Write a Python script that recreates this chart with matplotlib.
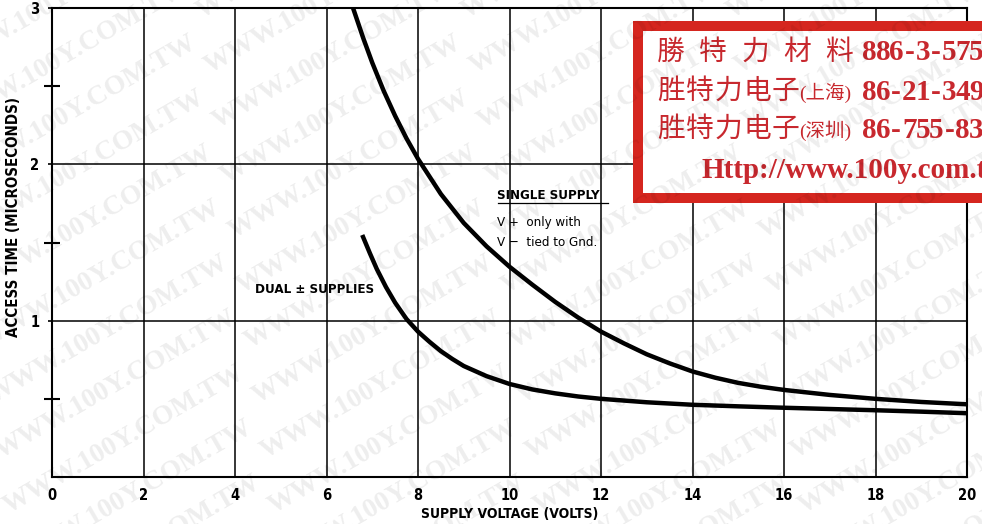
import matplotlib
matplotlib.use("Agg")
import matplotlib.pyplot as plt
import matplotlib.patches as patches

# access time vs supply voltage, read per curve
single_v = [6.58, 6.8, 7.0, 7.25, 7.5, 7.75, 8.0, 8.5, 9.0, 9.5, 10.0, 10.5, 11.0,
            11.5, 12.0, 12.5, 13.0, 13.5, 14.0, 14.5, 15.0, 15.5, 16.0, 17.0, 18.0,
            19.0, 20.0]
single_t = [3.00, 2.81, 2.65, 2.47, 2.31, 2.165, 2.035, 1.81, 1.625, 1.475, 1.345,
            1.23, 1.12, 1.02, 0.93, 0.855, 0.785, 0.727, 0.675, 0.635, 0.602, 0.577,
            0.557, 0.525, 0.50, 0.48, 0.465]

dual_v = [6.8, 6.95, 7.1, 7.3, 7.5, 7.75, 8.0, 8.25, 8.5, 8.75, 9.0, 9.5, 10.0,
          10.5, 11.0, 11.5, 12.0, 13.0, 14.0, 15.0, 16.0, 17.0, 18.0, 19.0, 20.0]
dual_t = [1.535, 1.43, 1.33, 1.215, 1.115, 1.01, 0.93, 0.865, 0.805, 0.755, 0.71,
          0.645, 0.595, 0.56, 0.535, 0.515, 0.50, 0.478, 0.462, 0.452, 0.443,
          0.435, 0.427, 0.418, 0.408]

x_ticks = [0, 2, 4, 6, 8, 10, 12, 14, 16, 18, 20]
y_ticks = [1, 2, 3]
y_minor = [0.5, 1.5, 2.5]

banner_names = ["勝特力材料", "胜特力电子", "胜特力电子"]
banner_cities = ["", "(上海)", "(深圳)"]
banner_phones = ["886-3-5753170", "86-21-34970699", "86-755-83298787"]
banner_url = "Http://www.100y.com.tw"
watermark = "WWW.100Y.COM.TW"

W, H = 982, 524
COND = dict(family="DejaVu Sans", stretch="condensed")
SERIF_CJK = ["Liberation Serif", "Noto Sans CJK SC"]
RED = "#c8282e"


def fx(px):
    return px / W


def fy(py):
    return 1 - py / H


def spaced(text, px0, step, py, **kw):
    # one glyph per fixed-width cell, like half-width print
    for i, ch in enumerate(text):
        fig.text(fx(px0 + step * (i + 0.5)), fy(py), ch, ha="center", va="center",
                 color=RED, zorder=7, **kw)


fig = plt.figure(figsize=(W / 100, H / 100), dpi=100)
fig.patch.set_facecolor("white")
ax = fig.add_axes([fx(52), fy(477), (967 - 52) / W, (477 - 8) / H])
ax.set_facecolor("white")

ax.plot(single_v, single_t, color="black", lw=3.2, solid_joinstyle="round", zorder=4)
ax.plot(dual_v, dual_t, color="black", lw=3.2, solid_joinstyle="round", zorder=4)

ax.set_xlim(0, 20)
ax.set_ylim(0, 3)
ax.set_xticks(x_ticks)
ax.set_yticks(y_ticks)
ax.set_yticks(y_minor, minor=True)
ax.grid(True, which="major", color="black", lw=1.1)
for s in ax.spines.values():
    s.set_linewidth(1.5)

ax.tick_params(axis="x", length=0, pad=8)
ax.tick_params(axis="y", which="major", direction="out", length=3, width=1.2, pad=6)
ax.tick_params(axis="y", which="minor", direction="inout", length=12, width=1.5)
for lab in ax.get_xticklabels() + ax.get_yticklabels():
    lab.set_fontfamily(COND["family"])
    lab.set_fontstretch(COND["stretch"])
    lab.set_fontweight("bold")
    lab.set_fontsize(10.5)

# curve annotations
ax.text(9.73, 1.80, "SINGLE SUPPLY", weight="bold", fontsize=9.5,
        va="center", ha="left", **COND)
ax.plot([9.75, 12.15], [1.752, 1.752], color="black", lw=0.9)
ax.text(9.73, 1.63, "V +  only with", fontsize=9.5, va="center", ha="left", **COND)
ax.text(9.73, 1.50, "V −  tied to Gnd.", fontsize=9.5, va="center", ha="left", **COND)
ax.text(4.44, 1.20, "DUAL ± SUPPLIES", weight="bold", fontsize=9.5,
        va="center", ha="left", **COND)

fig.text(fx(510), fy(514), "SUPPLY VOLTAGE (VOLTS)", weight="bold",
         fontsize=10, ha="center", va="center", **COND)
fig.text(fx(14), fy(217), "ACCESS TIME (MICROSECONDS)", weight="bold",
         fontsize=10.8, ha="center", va="center", rotation=90, **COND)

# distributor banner
fig.add_artist(patches.Rectangle((fx(633), fy(203)), fx(1100 - 633), (203 - 21) / H,
                                 transform=fig.transFigure, facecolor="#d5261f",
                                 edgecolor="none", zorder=5))
fig.add_artist(patches.Rectangle((fx(643), fy(193)), fx(1100 - 643), (193 - 31) / H,
                                 transform=fig.transFigure, facecolor="white",
                                 edgecolor="none", zorder=6))
rows_y = [53, 92, 130]
for i, py in enumerate(rows_y):
    if i == 0:
        spaced(banner_names[i], 650, 42, py, family=SERIF_CJK, fontsize=20)
    else:
        spaced(banner_names[i], 657, 28.6, py, family=SERIF_CJK, fontsize=20)
        fig.text(fx(799), fy(py + 1), banner_cities[i], family=SERIF_CJK, fontsize=14,
                 color=RED, ha="left", va="center", zorder=7)
    spaced(banner_phones[i], 863, 13.3, py, family="Liberation Serif", weight="bold",
           fontsize=21)
fig.text(fx(702), fy(170), banner_url, family="Liberation Serif", weight="bold",
         fontsize=21, color=RED, ha="left", va="center", zorder=7)

# faint tiled watermark
for col in range(-1, 5):
    for row in range(-3, 12):
        cx = 60 + col * 265 + row * 8
        cy = row * 55
        fig.text(fx(cx), fy(cy), watermark, family="Liberation Serif", weight="bold",
                 fontsize=20, color="black", alpha=0.07, rotation=30,
                 ha="center", va="center", zorder=10)

fig.savefig("out.png", dpi=100)
